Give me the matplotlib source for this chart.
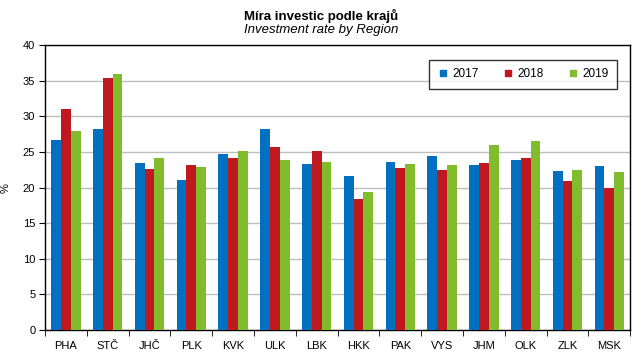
import matplotlib
matplotlib.use("Agg")
import matplotlib.pyplot as plt
from matplotlib.lines import Line2D
import numpy as np

plt.rcParams['font.family'] = ['Liberation Sans', 'DejaVu Sans']

regions = ["PHA", "STČ", "JHČ", "PLK", "KVK", "ULK", "LBK", "HKK", "PAK", "VYS", "JHM", "OLK", "ZLK", "MSK"]
v2017 = [26.7, 28.2, 23.4, 21.0, 24.7, 28.2, 23.3, 21.6, 23.6, 24.4, 23.2, 23.9, 22.3, 23.0]
v2018 = [31.0, 35.4, 22.6, 23.2, 24.1, 25.7, 25.1, 18.4, 22.7, 22.5, 23.4, 24.1, 20.9, 19.9]
v2019 = [27.9, 35.9, 24.1, 22.9, 25.1, 23.9, 23.6, 19.4, 23.3, 23.2, 26.0, 26.5, 22.5, 22.2]
years = ["2017", "2018", "2019"]
colors = ["#0070C0", "#C0181F", "#80BC2C"]

fig = plt.figure(figsize=(6.43, 3.58), dpi=100)
ax = fig.add_axes([0.070, 0.078, 0.910, 0.796])

x = np.arange(len(regions))
w = 0.235
for i, (vals, c) in enumerate(zip([v2017, v2018, v2019], colors)):
    ax.bar(x + (i - 1) * w, vals, width=w, color=c, zorder=3)

ax.set_xlim(-0.5, len(regions) - 0.5)
ax.set_ylim(0, 40)
ax.set_yticks(np.arange(0, 41, 5))
ax.yaxis.grid(True, color="#BEBEBE", linewidth=1, zorder=0)
ax.set_axisbelow(True)
ax.set_xticks(x)
ax.set_xticklabels(regions, fontsize=8)
ax.tick_params(axis='x', length=0, pad=8)
ax.set_xticks(np.arange(-0.5, len(regions), 1), minor=True)
ax.tick_params(axis='x', which='minor', length=4, direction='out', color='black')
ax.tick_params(axis='y', labelsize=8, length=4, direction='out', pad=3)
for s in ax.spines.values():
    s.set_color('black')
    s.set_linewidth(1)
ax.set_ylabel("%", fontsize=8)
ax.yaxis.set_label_coords(-0.058, 0.5)

handles = [Line2D([], [], marker='s', linestyle='none', color=c, markersize=5) for c in colors]
leg = ax.legend(handles, years, ncol=3, loc='upper right', bbox_to_anchor=(0.978, 0.947),
                fontsize=8.5, frameon=True, fancybox=False, edgecolor='black',
                handletextpad=0.3, columnspacing=2.0, borderpad=0.7, handlelength=1.0,
                borderaxespad=0)
leg.get_frame().set_linewidth(1)

fig.text(0.5, 0.955, "Míra investic podle krajů", ha='center', va='center', fontsize=9.5, fontweight='bold')
fig.text(0.5, 0.915, "Investment rate by Region", ha='center', va='center', fontsize=9.5, style='italic')

fig.savefig("out.png", dpi=100)
